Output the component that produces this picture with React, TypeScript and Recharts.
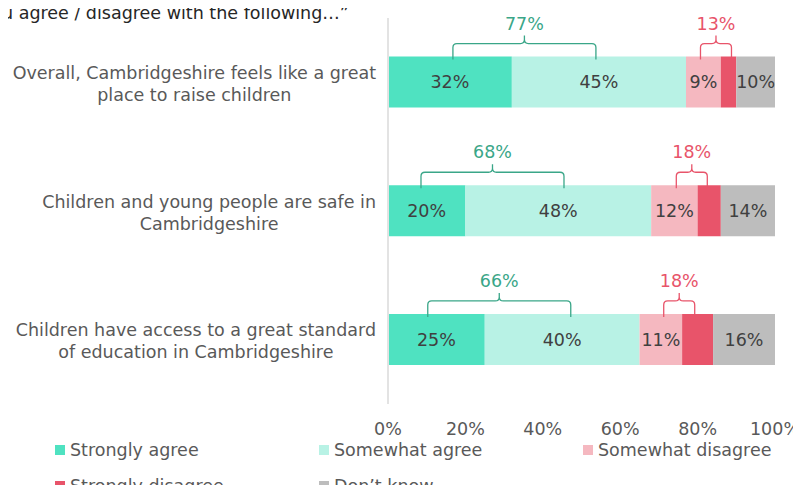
import React from 'react'
import { BarChart, Bar, XAxis, YAxis, LabelList } from 'recharts'

const categories = [
  'Overall, Cambridgeshire feels like a great\nplace to raise children',
  'Children and young people are safe in\nCambridgeshire',
  'Children have access to a great standard\nof education in Cambridgeshire',
]
const stronglyAgree = [32, 20, 25]
const somewhatAgree = [45, 48, 40]
const somewhatDisagree = [9, 12, 11]
const stronglyDisagree = [4, 6, 8]
const dontKnow = [10, 14, 16]
const agreeNet = [77, 68, 66]
const disagreeNet = [13, 18, 18]
const xTicks = [0, 20, 40, 60, 80, 100]

const series = [
  { key: 'sa', name: 'Strongly agree', color: '#4fe2c1', label: true },
  { key: 'swa', name: 'Somewhat agree', color: '#b8f2e5', label: true },
  { key: 'swd', name: 'Somewhat disagree', color: '#f5b8c0', label: true },
  { key: 'sd', name: 'Strongly disagree', color: '#e8546a', label: false },
  { key: 'dk', name: 'Don\u2019t know', color: '#bdbdbd', label: true },
]

const data = categories.map((name, i) => ({
  name,
  sa: stronglyAgree[i],
  swa: somewhatAgree[i],
  swd: somewhatDisagree[i],
  sd: stronglyDisagree[i],
  dk: dontKnow[i],
}))

const FONT = '"DejaVu Sans", Verdana, sans-serif'
const FS = 17.5
const GREEN = '#3aa688'
const RED = '#e8546a'

let ctx: CanvasRenderingContext2D | null = null
function measure(text: string, size: number) {
  if (!ctx) ctx = document.createElement('canvas').getContext('2d')
  if (!ctx) return text.length * size * 0.6
  ctx.font = `${size}px "DejaVu Sans"`
  return ctx.measureText(text).width
}

function CategoryTick(props: any) {
  const { x, y, payload } = props
  const lines = String(payload.value).split('\n')
  const w = Math.max(...lines.map((l) => measure(l, FS)))
  const cx = x - w / 2
  const lh = 22
  const start = y + 1.5 - ((lines.length - 1) * lh) / 2
  return (
    <g>
      {lines.map((l, i) => (
        <text key={i} x={cx} y={start + i * lh} dy="0.35em" textAnchor="middle" fill="#595959" fontSize={FS} fontFamily={FONT}>
          {l}
        </text>
      ))}
    </g>
  )
}

function Bracket(props: any, first: number[], second: number[], net: number[], half: number, color: string) {
  const vb = props.viewBox || props
  const x = Math.min(vb.x, vb.x + vb.width)
  const width = Math.abs(vb.width)
  const y = Math.min(vb.y, vb.y + vb.height)
  const i = props.index
  const ppu = width / second[i]
  const c1 = x - (first[i] * ppu) / 2
  const c2 = x + width / 2
  const mid = (c1 + c2) / 2
  const left = mid - half
  const right = mid + half
  const ly = y - 13
  const r = 4
  const d = [
    `M${left},${y + 3} L${left},${ly + r} Q${left},${ly} ${left + r},${ly} L${mid - r},${ly} Q${mid},${ly} ${mid},${ly - r} L${mid},${ly - 8}`,
    `M${mid},${ly - r} Q${mid},${ly} ${mid + r},${ly} L${right - r},${ly} Q${right},${ly} ${right},${ly + r} L${right},${y + 3}`,
  ].join(' ')
  return (
    <g>
      <path d={d} fill="none" stroke={color} strokeWidth={1.3} />
      <text x={mid} y={ly - 14} textAnchor="middle" fill={color} fontSize={FS} fontFamily={FONT}>
        {net[i]}%
      </text>
    </g>
  )
}

export default function App() {
  return (
    <div style={{ position: 'relative', width: 801, height: 493, margin: -8, fontFamily: FONT, overflow: 'hidden' }}>
      <BarChart
        width={801}
        height={493}
        data={data}
        layout="vertical"
        barCategoryGap="30%"
        margin={{ top: 18, right: 26, left: 0, bottom: 59 }}
      >
        <XAxis
          type="number"
          domain={[0, 100]}
          ticks={xTicks}
          tickFormatter={(v) => `${v}%`}
          axisLine={false}
          tickLine={false}
          height={30}
          tickMargin={13}
          tick={{ fill: '#595959', fontSize: FS, fontFamily: FONT }}
        />
        <YAxis
          type="category"
          dataKey="name"
          width={388}
          tickLine={false}
          tickMargin={6}
          axisLine={{ stroke: '#e3e3e3', strokeWidth: 2 }}
          tick={<CategoryTick />}
        />
        {series.map((s) => (
          <Bar key={s.key} dataKey={s.key} name={s.name} stackId="a" fill={s.color} isAnimationActive={false}>
            {s.label && (
              <LabelList dataKey={s.key} position="center" formatter={(v: any) => `${v}%`} fill="#404040" fontSize={FS} fontFamily={FONT} />
            )}
            {s.key === 'swa' && (
              <LabelList dataKey={s.key} content={(p: any) => Bracket(p, stronglyAgree, somewhatAgree, agreeNet, 71.5, GREEN)} />
            )}
            {s.key === 'sd' && (
              <LabelList dataKey={s.key} content={(p: any) => Bracket(p, somewhatDisagree, stronglyDisagree, disagreeNet, 15.5, RED)} />
            )}
          </Bar>
        ))}
      </BarChart>
      <div style={{ position: 'absolute', left: 2, top: 3, fontSize: FS, color: '#262626', whiteSpace: 'nowrap', lineHeight: '20px' }}>
        u agree / disagree with the following…”
      </div>
      <div style={{ position: 'absolute', left: 55, top: 439, width: 800, display: 'flex', flexWrap: 'wrap', rowGap: 14 }}>
        {series.map((s) => (
          <div key={s.key} style={{ width: 264, display: 'flex', alignItems: 'center', fontSize: FS, color: '#595959', height: 22 }}>
            <span style={{ width: 10, height: 10, background: s.color, marginRight: 5, display: 'inline-block' }} />
            {s.name}
          </div>
        ))}
      </div>
    </div>
  )
}
